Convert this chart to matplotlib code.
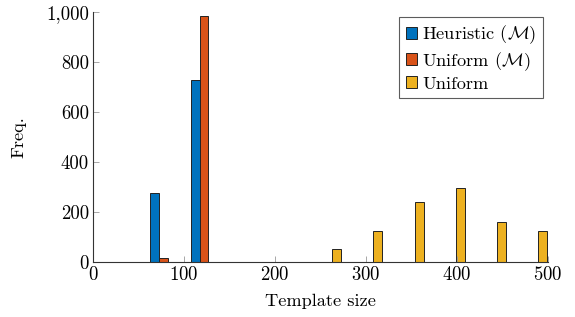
import matplotlib
matplotlib.use("Agg")
import matplotlib.pyplot as plt
from matplotlib.ticker import FuncFormatter
import numpy as np

bin_centers = [77, 122, 168, 213, 258, 303, 349, 394, 439, 484]
heuristic_M = [275, 727, 0, 0, 0, 0, 0, 0, 0, 0]
uniform_M = [15, 985, 0, 0, 0, 0, 0, 0, 0, 0]
uniform = [0, 0, 2, 0, 52, 125, 240, 295, 160, 126]
series_names = ["Heuristic ($\\mathcal{M}$)", "Uniform ($\\mathcal{M}$)", "Uniform"]
colors = ["#0072BD", "#D95319", "#EDB120"]

plt.rcParams["font.family"] = ["cmr10", "DejaVu Serif"]
plt.rcParams["mathtext.fontset"] = "cm"
plt.rcParams["axes.formatter.use_mathtext"] = True

fig = plt.figure(figsize=(5.75, 3.17), dpi=100)
ax = fig.add_axes([93/575, 1-262/317, (548-93)/575, (262-12)/317])

w = 9.8
x = np.array(bin_centers, dtype=float)
for i, (vals, name, c) in enumerate(zip([heuristic_M, uniform_M, uniform], series_names, colors)):
    ax.bar(x + (i - 1) * w, vals, width=w, color=c, edgecolor="#222222",
           linewidth=0.7, label=name)

ax.set_xlim(0, 500)
ax.set_ylim(0, 1000)
ax.set_xticks([0, 100, 200, 300, 400, 500])
ax.set_yticks([0, 200, 400, 600, 800, 1000])
ax.yaxis.set_major_formatter(FuncFormatter(lambda v, p: f"{int(v):,}"))
ax.spines["top"].set_visible(False)
ax.spines["right"].set_visible(False)
for s in ["left", "bottom"]:
    ax.spines[s].set_linewidth(0.8)
    ax.spines[s].set_color("#333333")
ax.tick_params(direction="in", length=4, width=0.6, color="#999999",
               labelsize=13.5, pad=3, labelcolor="black")
ax.set_xlabel("Template size", fontsize=13.2, labelpad=7)
ax.set_ylabel("Freq.", fontsize=13.2, labelpad=14)

leg = ax.legend(loc="upper right", fontsize=13.2, frameon=True, fancybox=False,
                edgecolor="#333333", handlelength=0.6, handleheight=0.6,
                handletextpad=0.3, borderpad=0.35, labelspacing=0.2,
                borderaxespad=0, bbox_to_anchor=(0.989, 0.98))
leg.get_frame().set_linewidth(0.8)

fig.savefig("out.png", dpi=100)
